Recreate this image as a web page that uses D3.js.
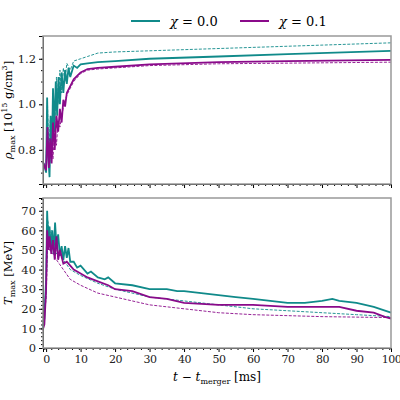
<!DOCTYPE html><html><head><meta charset="utf-8"><script src="https://cdn.jsdelivr.net/npm/d3@7"></script>
<style>body{margin:0;background:#fff}text{font-family:"DejaVu Serif","Liberation Serif",serif}</style></head><body>
<svg id="c" width="400" height="400"></svg>
<script>
const teal="#108a8a", purple="#8a0a8a";
const rhoTealSolid=[[-1,0.75],[-0.5,0.73],[0,0.70],[0.3,1.03],[0.6,0.78],[1,0.68],[1.3,0.95],[1.7,0.80],[2,1.07],[2.4,0.88],[2.8,1.10],[3.2,0.95],[3.6,1.12],[4,1.00],[4.5,1.14],[5,1.05],[5.5,1.15],[6,1.09],[6.5,1.16],[7,1.12],[8,1.17],[9,1.16],[10,1.175],[12,1.18],[15,1.185],[20,1.19],[30,1.2],[50,1.21],[70,1.22],[100,1.235]];
const rhoTealDash=[[-1,0.75],[0,0.71],[0.4,1.0],[0.8,0.75],[1.2,0.93],[1.6,0.82],[2,1.05],[2.5,0.9],[3,1.12],[3.5,1.0],[4,1.15],[4.5,1.05],[5,1.16],[5.5,1.1],[6,1.18],[7,1.15],[8,1.19],[10,1.2],[12,1.21],[15,1.225],[20,1.23],[40,1.24],[60,1.25],[80,1.26],[100,1.27]];
const rhoPurpleSolid=[[-1,0.75],[-0.5,0.73],[0,0.71],[0.4,0.90],[0.8,0.72],[1.2,0.85],[1.6,0.74],[2,0.92],[2.5,0.80],[3,0.95],[3.5,0.88],[4,0.98],[4.5,0.92],[5,1.02],[5.5,0.99],[6,1.05],[7,1.08],[8,1.11],[10,1.14],[12,1.155],[15,1.16],[20,1.165],[30,1.175],[50,1.185],[70,1.19],[100,1.195]];
const rhoPurpleDash=[[-1,0.75],[0,0.72],[0.5,0.88],[1,0.72],[1.5,0.84],[2,0.76],[2.5,0.9],[3,0.82],[3.5,0.93],[4,0.9],[5,0.99],[6,1.04],[7,1.07],[8,1.1],[10,1.135],[12,1.15],[15,1.155],[20,1.16],[30,1.17],[50,1.178],[100,1.185]];
const tTealSolid=[[-1,10],[-0.5,15],[0,35],[0.3,70],[0.6,55],[1,62],[1.4,50],[1.8,60],[2.2,48],[2.6,64],[3,52],[3.5,58],[4,47],[4.5,52],[5,45],[5.5,52],[6,46],[6.5,51],[7,44],[8,44],[9,41],[10,42],[12,38],[13,39],[15,36],[17,35],[18,36],[20,33],[25,32],[30,30],[35,30],[38,29],[40,29],[45,28],[50,27],[55,26],[60,25],[65,24],[70,23],[75,23],[80,24],[83,25],[85,24],[90,23],[95,21],[100,18]];
const tTealDash=[[-1,10],[0,30],[0.5,65],[1,55],[1.5,60],[2,50],[2.5,55],[3,48],[4,50],[5,45],[7,40],[10,37],[15,33],[20,30],[30,26],[40,24],[50,22],[60,20],[70,19],[80,18],[90,17],[100,16]];
const tPurpleSolid=[[-1,9],[-0.5,12],[0,30],[0.3,60],[0.7,50],[1,57],[1.5,48],[2,55],[2.5,45],[3,57],[3.5,45],[4,50],[5,43],[6,44],[7,42],[8,40],[10,38],[12,36],[15,34],[18,32],[20,30],[25,29],[30,26],[35,25],[40,23],[50,22],[60,22],[70,21],[80,21],[85,21],[90,19],[95,18],[98,16],[100,15]];
const tPurpleDash=[[-1,9],[0,25],[0.5,55],[1,50],[2,48],[3,45],[5,40],[7,35],[10,32],[15,28],[20,26],[25,24],[30,22],[40,20],[50,18],[60,17],[70,16.5],[80,16],[100,15.5]];
const rhoTicks=[0.8,1.0,1.2], tTicks=[0,10,20,30,40,50,60,70], xTicks=[0,10,20,30,40,50,60,70,80,90,100];

const svg=d3.select("#c");
const x=d3.scaleLinear().domain([-0.9,100]).range([43,391]);
const yR=d3.scaleLinear().domain([0.65,1.30]).range([184,36]);
const yT=d3.scaleLinear().domain([0,76.5]).range([348,198]);

function panel(y,series,ticks,minorStep,fmt,showX){
  const g=svg.append("g");
  const line=d3.line().x(d=>x(d[0])).y(d=>y(d[1]));
  series.forEach(s=>g.append("path").attr("d",line(s.d)).attr("fill","none").attr("stroke",s.c).attr("stroke-width",s.dash?0.9:1.8).attr("stroke-dasharray",s.dash?"3,1.5":null));
  const [y0,y1]=y.range();
  const minor=d3.range(Math.ceil(y.domain()[0]/minorStep)*minorStep,y.domain()[1],minorStep);
  const ax=g.append("g").attr("transform","translate(43,0)").call(d3.axisLeft(y).tickValues(ticks).tickFormat(fmt).tickSize(4));
  ax.selectAll("text").attr("font-size",11.5).attr("fill","#222");
  g.append("g").attr("transform","translate(43,0)").call(d3.axisLeft(y).tickValues(minor).tickFormat("").tickSize(2)).select(".domain").remove();
  const bx=g.append("g").attr("transform",`translate(0,${y0})`).call(d3.axisBottom(x).tickValues(xTicks).tickFormat(showX?d3.format("d"):"").tickSize(4));
  bx.selectAll("text").attr("font-size",11).attr("fill","#222").attr("letter-spacing",-0.5);
  g.append("g").attr("transform",`translate(0,${y0})`).call(d3.axisBottom(x).tickValues(d3.range(-0.5,100,2)).tickFormat("").tickSize(2)).select(".domain").remove();
  g.append("rect").attr("x",43).attr("y",y1).attr("width",348).attr("height",y0-y1).attr("fill","none").attr("stroke","#999").attr("stroke-width",1.5);
}
panel(yR,[{d:rhoTealDash,c:teal,dash:1},{d:rhoPurpleDash,c:purple,dash:1},{d:rhoTealSolid,c:teal},{d:rhoPurpleSolid,c:purple}],rhoTicks,0.05,d3.format(".1f"),false);
panel(yT,[{d:tTealDash,c:teal,dash:1},{d:tPurpleDash,c:purple,dash:1},{d:tTealSolid,c:teal},{d:tPurpleSolid,c:purple}],tTicks,2,d3.format("d"),true);

// labels
svg.append("text").attr("transform","translate(12,110) rotate(-90)").attr("text-anchor","middle").attr("font-size",11.5).html('<tspan font-style="italic">ρ</tspan><tspan font-size="8" dy="3">max</tspan><tspan dy="-3"> [10</tspan><tspan font-size="8" dy="-5">15</tspan><tspan dy="5"> g/cm</tspan><tspan font-size="8" dy="-5">3</tspan><tspan dy="5">]</tspan>');
svg.append("text").attr("transform","translate(12,273) rotate(-90)").attr("text-anchor","middle").attr("font-size",11.5).html('<tspan font-style="italic">T</tspan><tspan font-size="8" dy="3">max</tspan><tspan dy="-3"> [MeV]</tspan>');
svg.append("text").attr("x",217).attr("y",381).attr("text-anchor","middle").attr("font-size",12).html('<tspan font-style="italic">t</tspan> − <tspan font-style="italic">t</tspan><tspan font-size="8" dy="3">merger</tspan><tspan dy="-3"> [ms]</tspan>');
// legend
const leg=[{c:teal,l:"χ = 0.0",x:131},{c:purple,l:"χ = 0.1",x:240}];
leg.forEach(d=>{svg.append("line").attr("x1",d.x).attr("x2",d.x+29).attr("y1",21).attr("y2",21).attr("stroke",d.c).attr("stroke-width",2);
svg.append("text").attr("x",d.x+39).attr("y",26).attr("font-size",13).html('<tspan font-style="italic">χ</tspan> = '+d.l.split("= ")[1]);});
</script></body></html>
